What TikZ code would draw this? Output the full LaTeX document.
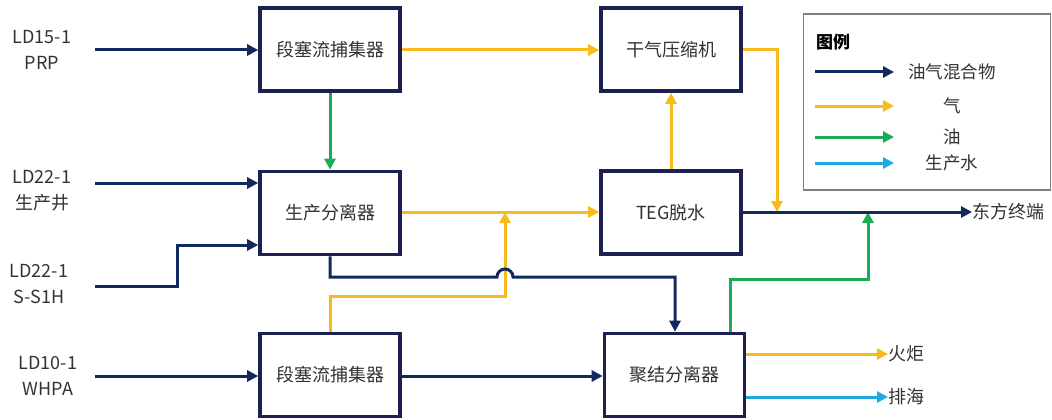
\documentclass[tikz,border=0pt]{standalone}
\usepackage{fontspec}
\setmainfont{Noto Sans CJK SC}
\usetikzlibrary{arrows.meta}
\definecolor{navy}{HTML}{12295E}
\definecolor{boxc}{HTML}{1B2150}
\definecolor{ylw}{HTML}{F7BC1B}
\definecolor{grn}{HTML}{1DAA55}
\definecolor{lblue}{HTML}{1FA9E1}
\definecolor{txt}{HTML}{333333}
\definecolor{leggray}{HTML}{7F7F7F}
\begin{document}
\begin{tikzpicture}[x=1pt,y=1pt,
  box/.style={draw=boxc, line width=3.6pt, minimum width=140pt, minimum height=83pt, inner sep=0pt, font=\fontsize{18}{20}\selectfont, text=txt},
  lab/.style={align=center, inner sep=0pt, font=\fontsize{18}{26}\selectfont, text=txt},
  olab/.style={anchor=west, inner sep=0pt, font=\fontsize{18}{20}\selectfont, text=txt},
  flow/.style={line width=3pt, -{Triangle[length=11pt,width=11pt]}},
  nav/.style={flow, draw=navy},
  gas/.style={flow, draw=ylw},
  oil/.style={flow, draw=grn},
  wat/.style={flow, draw=lblue}]
\useasboundingbox (0,0) rectangle (1052,-420);
\fill[white] (0,0) rectangle (1052,-420);

% boxes
\node[box] (b1) at (330,-49.5) {段塞流捕集器};
\node[box] (b2) at (330,-213) {生产分离器};
\node[box] (b3) at (330,-375) {段塞流捕集器};
\node[box] (comp) at (671,-49.5) {干气压缩机};
\node[box] (teg) at (671,-212.5) {TEG脱水};
\node[box] (coal) at (674.5,-375) {聚结分离器};

% input labels
\node[lab] (l1) at (42,-50) {LD15-1\\PRP};
\node[lab] (l2) at (42,-191) {LD22-1\\生产井};
\node[lab] (l3) at (39,-284) {LD22-1\\S-S1H};
\node[lab] (l4) at (48,-375.5) {LD10-1\\WHPA};

\coordinate (s1) at (95,-50);
\coordinate (s2) at (95,-183);
\coordinate (s3) at (95,-286);
\coordinate (s4) at (95,-376);

% inputs
\draw[nav] (s1) -- (b1.west |- s1);
\draw[nav] (s2) -- (b2.west |- s2);
\draw[nav] (s3) -- (177,-286) -- (177,-245) -- (b2.west |- 0,-245);
\draw[nav] (s4) -- (b3.west |- s4);

% gas lines
\draw[gas] (b1.east |- 0,-50) -- (comp.west |- 0,-50);
\draw[gas] (b2.east |- 0,-212) -- (teg.west |- 0,-212);
\draw[gas] (b3.north) -- (330,-296) -- (505,-296) -- (505,-212);
\draw[gas] (teg.north) -- (comp.south);
\coordinate (j1) at (777,-212);
\draw[gas] (comp.east |- 0,-50) -- (777,-50) -- (j1);

% oil
\draw[oil] (b1.south) -- (b2.north);
\coordinate (j2) at (868,-212);
\draw[oil] (coal.north -| 730,0) -- (730,-279) -- (868,-279) -- (j2);

% mixture
\draw[nav] (b2.south) -- (330,-277) -- (497,-277) arc[start angle=180, end angle=0, radius=8] -- (675,-277) -- (coal.north -| 675,0);
\draw[nav] (b3.east |- s4) -- (coal.west |- s4);
\node[olab] (east) at (972,-212) {东方终端};
\draw[nav] (teg.east |- east.west) -- (east.west);

% outputs
\node[olab] (flare) at (888,-354) {火炬};
\node[olab] (sea) at (888,-397) {排海};
\draw[gas] (coal.east |- flare.west) -- (flare.west);
\draw[wat] (coal.east |- sea.west) -- (sea.west);

% legend
\node[draw=leggray, line width=1.4pt, minimum width=247pt, minimum height=176pt, inner sep=0pt] (leg) at (927,-102) {};
\node[inner sep=0pt, font=\fontsize{17}{20}\selectfont\bfseries, text=black] (legt) at (833,-42) {图例};
\coordinate (a1) at (815,-72); \coordinate (a1e) at (894,-72);
\coordinate (a2) at (815,-106); \coordinate (a2e) at (894,-106);
\coordinate (a3) at (815,-137); \coordinate (a3e) at (894,-137);
\coordinate (a4) at (815,-163); \coordinate (a4e) at (894,-163);
\draw[nav] (a1) -- (a1e);
\draw[gas] (a2) -- (a2e);
\draw[oil] (a3) -- (a3e);
\draw[wat] (a4) -- (a4e);
\node[inner sep=0pt, font=\fontsize{17.5}{20}\selectfont, text=txt] (t1) at (952,-72) {油气混合物};
\node[inner sep=0pt, font=\fontsize{17.5}{20}\selectfont, text=txt] (t2) at (952,-106) {气};
\node[inner sep=0pt, font=\fontsize{17.5}{20}\selectfont, text=txt] (t3) at (952,-137) {油};
\node[inner sep=0pt, font=\fontsize{17.5}{20}\selectfont, text=txt] (t4) at (952,-163) {生产水};
\end{tikzpicture}
\end{document}
